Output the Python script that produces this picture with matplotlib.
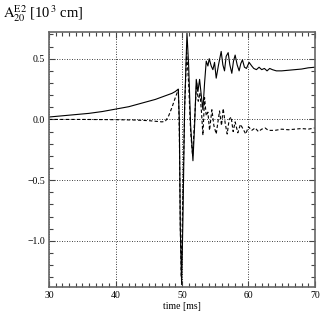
import matplotlib
matplotlib.use("Agg")
import matplotlib.pyplot as plt
from matplotlib.ticker import MultipleLocator

plt.rcParams['font.family'] = ['Liberation Serif', 'DejaVu Serif']
plt.rcParams['mathtext.fontset'] = 'stix'

t_solid = [30, 32, 34, 36, 38, 40, 42, 44, 45, 46, 47, 48, 48.5, 49, 49.45, 49.6, 49.75,
           49.95, 50.15, 50.4, 50.75, 51.0, 51.3, 51.65, 51.9, 52.15, 52.4, 52.65, 52.9,
           53.15, 53.4, 53.65, 53.9, 54.1, 54.4, 54.65, 54.9, 55.15, 55.5, 55.9, 56.15,
           56.4, 56.65, 56.95, 57.2, 57.5, 57.75, 58.0, 58.3, 58.6, 58.85, 59.1, 59.4,
           59.7, 60.1, 60.5, 60.8, 61.2, 61.6, 62.0, 62.4, 62.8, 63.2, 63.6, 64.2, 65,
           66, 67, 68, 69, 70]
a_solid = [0.02, 0.03, 0.04, 0.05, 0.065, 0.085, 0.105, 0.135, 0.15, 0.165, 0.185, 0.205,
           0.215, 0.23, 0.25, 0.0, -0.9, -1.36, -0.8, 0.1, 0.71, 0.45, -0.05, -0.34, -0.05,
           0.33, 0.23, 0.33, 0.2, 0.08, 0.3, 0.48, 0.44, 0.5, 0.44, 0.41, 0.47, 0.34, 0.45,
           0.56, 0.45, 0.40, 0.52, 0.55, 0.45, 0.38, 0.48, 0.53, 0.45, 0.40, 0.46, 0.49,
           0.43, 0.42, 0.47, 0.44, 0.42, 0.41, 0.43, 0.41, 0.42, 0.40, 0.42, 0.41, 0.40,
           0.40, 0.405, 0.41, 0.415, 0.425, 0.43]

t_dash = [30, 35, 40, 43, 45, 46, 47, 47.5, 48, 48.5, 49, 49.45, 49.6, 49.75, 49.9, 50.1,
          50.4, 50.7, 51.0, 51.3, 51.6, 51.9, 52.2, 52.45, 52.7, 52.95, 53.15, 53.4,
          53.65, 53.9, 54.15, 54.5, 54.8, 55.15, 55.65, 55.95, 56.2, 56.5, 56.8, 57.1,
          57.4, 57.7, 58.0, 58.4, 58.8, 59.2, 59.6, 60.0, 60.5, 61.0, 61.5, 62.0, 62.5,
          63.0, 64, 65, 66, 67, 68, 69, 70]
a_dash = [0.0, 0.0, -0.002, -0.005, -0.01, -0.015, -0.02, -0.015, 0.03, 0.1, 0.18, 0.245,
          -0.1, -0.9, -1.3, -0.7, 0.1, 0.55, 0.3, -0.1, -0.3, 0.0, 0.3, 0.15, 0.22, 0.05,
          -0.13, 0.18, 0.03, 0.06, -0.09, 0.08, -0.05, -0.12, 0.07, -0.05, 0.09, -0.03,
          -0.12, 0.0, 0.02, -0.1, -0.02, -0.11, -0.04, -0.08, -0.12, -0.06, -0.09, -0.07,
          -0.1, -0.08, -0.07, -0.09, -0.09, -0.08, -0.085, -0.08, -0.075, -0.08, -0.07]

x_ticks = [30, 40, 50, 60, 70]
y_ticks = [-1.0, -0.5, 0.0, 0.5]

fig = plt.figure(figsize=(3.27, 3.20), dpi=100)
ax = fig.add_axes([0.150, 0.103, 0.813, 0.797])

ax.plot(t_solid, a_solid, color='black', lw=0.8)
ax.plot(t_dash, a_dash, color='black', lw=0.8, dashes=(3, 2))

ax.set_xlim(30, 70)
ax.set_ylim(-1.38, 0.72)
ax.set_xticks(x_ticks)
ax.set_xticklabels([str(v) for v in x_ticks])
ax.set_yticks(y_ticks)
ax.set_yticklabels(['\u22121.0', '\u22120.5', '0.0', '0.5'])
ax.xaxis.set_minor_locator(MultipleLocator(1))
ax.yaxis.set_minor_locator(MultipleLocator(0.1))
ax.tick_params(which='both', direction='in', top=True, right=True, labelsize=7,
               color='#444444', width=0.8)
ax.tick_params(which='major', length=4, pad=3)
ax.tick_params(which='minor', length=3)
ax.grid(True, which='major', color='black', linestyle=(0, (1, 2)), linewidth=0.6)
for s in ax.spines.values():
    s.set_color('#666666')
    s.set_linewidth(1.2)

ax.set_xlabel('time [ms]', fontsize=7, labelpad=1)
fig.text(0.01, 0.945, r'$\mathrm{A}_{20}^{\mathrm{E2}}$ [10$^{\,3}$ cm]', fontsize=10.5,
         ha='left', va='baseline')

fig.savefig('out.png', dpi=100)
